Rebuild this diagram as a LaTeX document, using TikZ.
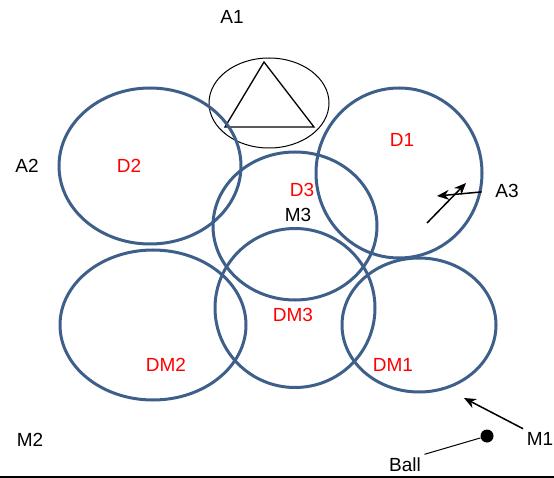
\documentclass[tikz,border=0pt]{standalone}
\usepackage{fontspec}
\setmainfont{Liberation Sans}
\usepackage{tikz}
\usetikzlibrary{arrows.meta}
\usetikzlibrary{shapes.geometric}
\usetikzlibrary{positioning}
\definecolor{zoneblue}{RGB}{62,95,138}

\begin{document}
\begin{tikzpicture}[x=1pt,y=-1pt,->,>={Stealth[length=12pt,width=10pt]},thick,
    zone/.style={ellipse,draw=zoneblue,line width=3pt,inner sep=0pt},
    red label/.style={text=red,font=\fontsize{19}{22}\selectfont},
    black label/.style={text=black,font=\fontsize{19}{22}\selectfont},
    ball node/.style={circle,fill=black,inner sep=0pt,minimum size=13pt}]
   \useasboundingbox (0,0) rectangle (554,478);
   \begin{scope}
     % area A1 with the triangle
     \node[ellipse,draw,line width=1pt,minimum width=120,minimum height=90] (a1zone) at (269,103) {};
     \draw[-,line width=1.3pt,line join=miter] (264,62) -- (314,127) -- (225,127) -- cycle;
     % zones
     \node[zone,minimum width=182,minimum height=156] (d2) at (150,166) {};
     \node[zone,minimum width=166,minimum height=170] (d1) at (399,173) {};
     \node[zone,minimum width=164,minimum height=148] (d3) at (295,226) {};
     \node[zone,minimum width=186,minimum height=150] (dm2) at (153,325) {};
     \node[zone,minimum width=160,minimum height=159] (dm3) at (295,308) {};
     \node[zone,minimum width=154,minimum height=134] (dm1) at (419,325) {};
     % zone labels
     \node[red label] (d2l) at (129,166) {D2};
     \node[red label] (d1l) at (402,140) {D1};
     \node[red label] (d3l) at (302,190) {D3};
     \node[red label] (dm3l) at (293,315) {DM3};
     \node[red label] (dm2l) at (166,365) {DM2};
     \node[red label] (dm1l) at (393,365) {DM1};
     % player labels
     \node[black label] (a1) at (232,17) {A1};
     \node[black label] (a2) at (27,166) {A2};
     \node[black label] (a3) at (507,191) {A3};
     \node[black label] (m3) at (298,215) {M3};
     \node[black label] (m2) at (30,440) {M2};
     \node[black label] (m1) at (540,439) {M1};
     \node[black label] (ball) at (405,465) {Ball};
     \node[ball node] (b) at (487,436) {};
     \coordinate (a3start) at (427,223);
     \coordinate (a3end) at (466,183);
     \coordinate (a3run) at (437,196);
     \coordinate (m1end) at (464,398);
      \path[->,line width=1.5pt] (a3.west) edge[shorten <=10pt] (a3run);
      \path[->,line width=1.5pt] (a3start) edge (a3end);
      \path[->,line width=1.5pt] (m1.north west) edge (m1end);
      \path[-,line width=1pt] (ball.north east) edge (b);
      \path[-,line width=2pt] (0,477) edge (554,477);
    \end{scope}
  \end{tikzpicture}
\end{document}
